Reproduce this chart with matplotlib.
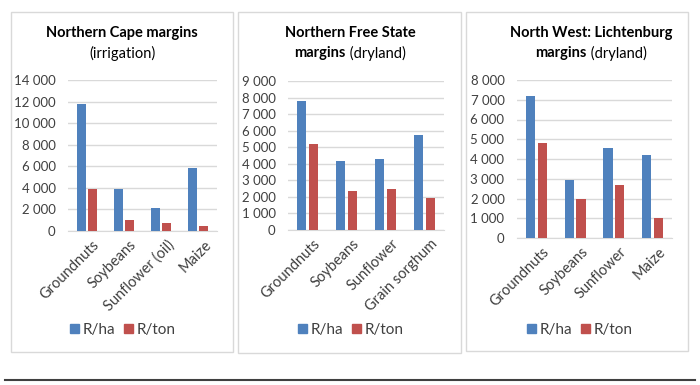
"""
Gross margins per crop, three regions, R/ha vs R/ton
"""
import matplotlib
matplotlib.use("Agg")
import matplotlib.pyplot as plt
from matplotlib.patches import Rectangle
from matplotlib.lines import Line2D
from matplotlib.ticker import FuncFormatter, MultipleLocator
import matplotlib.transforms as mtransforms

plt.rcParams["font.family"] = ["Lato", "DejaVu Sans"]

BLUE = "#4F81BD"
RED = "#C0504D"
GRID = "#D9D9D9"
TEXT = "#404040"

# data
nc_crops = ["Groundnuts", "Soybeans", "Sunflower (oil)", "Maize"]
nc_r_ha = [11750, 3870, 2170, 5800]
nc_r_ton = [3900, 990, 740, 430]

nfs_crops = ["Groundnuts", "Soybeans", "Sunflower", "Grain sorghum"]
nfs_r_ha = [7800, 4150, 4310, 5740]
nfs_r_ton = [5180, 2380, 2480, 1910]

nw_crops = ["Groundnuts", "Soybeans", "Sunflower", "Maize"]
nw_r_ha = [7200, 2940, 4540, 4200]
nw_r_ton = [4790, 1970, 2670, 1000]

W, H = 700, 385
fig = plt.figure(figsize=(7, 3.85), dpi=100)


def px_box(x0, y0, x1, y1):
    # pixel coords (top-left origin) -> figure fraction rect
    return [x0 / W, 1 - y1 / H, (x1 - x0) / W, (y1 - y0) / H]


def space_fmt(v, pos):
    return f"{int(v):,}".replace(",", " ")


def draw_title(cx, line1, bold2, normal2, y1=33, y2=53):
    fig.text(cx / W, 1 - y1 / H, line1, ha="center", va="center",
             fontsize=10.5, fontweight="bold", color="black")
    renderer = fig.canvas.get_renderer()
    tb = fig.text(0, 0, bold2, fontsize=10.5, fontweight="bold")
    tn = fig.text(0, 0, normal2, fontsize=10.5)
    wb = tb.get_window_extent(renderer).width if bold2 else 0
    wn = tn.get_window_extent(renderer).width
    tb.remove()
    tn.remove()
    left = cx - (wb + wn) / 2
    if bold2:
        fig.text(left / W, 1 - y2 / H, bold2, ha="left", va="center",
                 fontsize=10.5, fontweight="bold", color="black")
    fig.text((left + wb) / W, 1 - y2 / H, normal2, ha="left", va="center",
             fontsize=10.5, color="black")


def draw_panel(frame, axbox, crops, r_ha, r_ton, ymax, step, legend_cx):
    fx0, fy0, fx1, fy1 = frame
    fig.patches.append(Rectangle((fx0 / W, 1 - fy1 / H), (fx1 - fx0) / W,
                                 (fy1 - fy0) / H, transform=fig.transFigure,
                                 facecolor="none", edgecolor=GRID, lw=1.0, zorder=-5))
    ax = fig.add_axes(px_box(*axbox))
    x = list(range(len(crops)))
    ax.bar([i - 0.15 for i in x], r_ha, width=0.24, color=BLUE, label="R/ha", zorder=3)
    ax.bar([i + 0.15 for i in x], r_ton, width=0.24, color=RED, label="R/ton", zorder=3)
    ax.set_xlim(-0.5, len(crops) - 0.5)
    ax.set_ylim(0, ymax)
    ax.yaxis.set_major_locator(MultipleLocator(step))
    ax.yaxis.set_major_formatter(FuncFormatter(space_fmt))
    ax.grid(axis="y", color=GRID, lw=1.0, zorder=0)
    ax.set_axisbelow(True)
    for s in ["top", "right", "left"]:
        ax.spines[s].set_visible(False)
    ax.spines["bottom"].set_color(GRID)
    ax.tick_params(length=0, labelcolor=TEXT)
    ax.tick_params(axis="y", pad=9, labelsize=9.5)
    ax.set_xticks(x)
    ax.set_xticklabels(crops, rotation=45, ha="right", rotation_mode="anchor",
                       fontsize=10.5)
    ax.tick_params(axis="x", pad=5)
    # nudge rotated labels a little right, like the original
    shift = mtransforms.ScaledTranslation(4 / 72, 0, fig.dpi_scale_trans)
    for lab in ax.get_xticklabels():
        lab.set_transform(lab.get_transform() + shift)
    ax.set_facecolor("none")

    handles = [Rectangle((0, 0), 1, 1, color=BLUE), Rectangle((0, 0), 1, 1, color=RED)]
    fig.legend(handles, ["R/ha", "R/ton"], loc="center",
               bbox_to_anchor=(legend_cx / W, 1 - 330 / H), ncol=2, frameon=False,
               fontsize=11, handlelength=0.55, handleheight=0.55, handletextpad=0.25,
               columnspacing=0.6, labelcolor=TEXT)
    return ax


draw_panel((11, 12, 233, 352), (68, 80, 217, 231), nc_crops, nc_r_ha, nc_r_ton,
           14000, 2000, 123)
draw_title(122, "Northern Cape margins", "", "(irrigation)")

draw_panel((238, 12, 461, 353), (288, 81, 444, 230), nfs_crops, nfs_r_ha, nfs_r_ton,
           9000, 1000, 351)
draw_title(350, "Northern Free State", "margins", " (dryland)")

draw_panel((466, 12, 688, 351), (517, 80, 672, 238), nw_crops, nw_r_ha, nw_r_ton,
           8000, 1000, 580)
draw_title(591, "North West: Lichtenburg", "margins", " (dryland)")

# rule under the figure
fig.lines.append(Line2D([5 / W, 695 / W], [1 - 380 / H, 1 - 380 / H],
                        transform=fig.transFigure, color="#404040", lw=1.5))

fig.savefig("out.png", dpi=100)
